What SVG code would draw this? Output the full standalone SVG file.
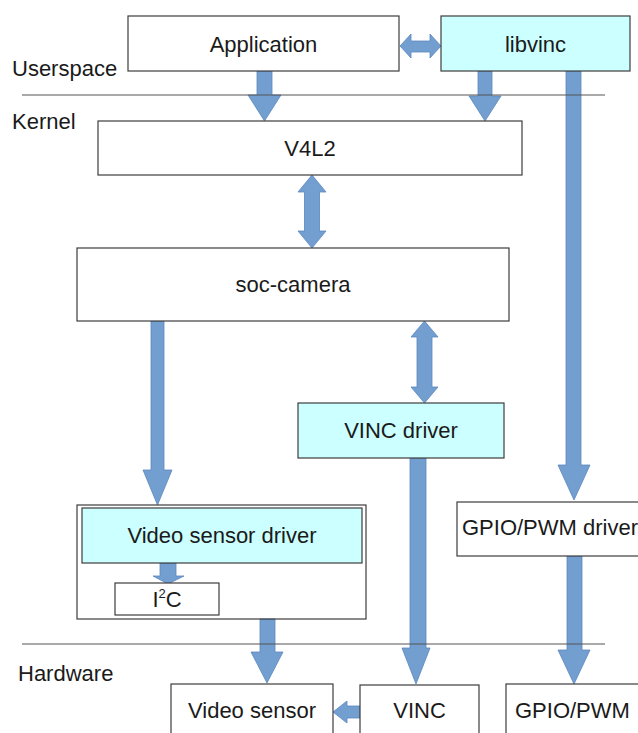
<svg xmlns="http://www.w3.org/2000/svg" width="638" height="733" viewBox="0 0 638 733">
<style>
.box{fill:#ffffff;stroke:#3c3c3c;stroke-width:1.2}
.frame{fill:none;stroke:#3c3c3c;stroke-width:1.2}
.cyan{fill:#ccffff;stroke:#3c3c3c;stroke-width:1.2}
.arr{fill:#729fcf;stroke:#5a87bf;stroke-width:0.8}
.sep{stroke:#555555;stroke-width:1.2}
text{font-family:"Liberation Sans",Arial,sans-serif;font-size:22px;fill:#1a1a1a}
.c{text-anchor:middle}
</style>
<rect width="638" height="733" fill="#ffffff"/>
<g id="connectors">
<path class="arr" d="M257,71 H272 V95 H281 L264.5,121 L248,95 H257 Z"/>
<path class="arr" d="M478,71 H492 V96 H501 L485,121 L469,96 H478 Z"/>
<path class="arr" d="M566,71 H581 V465 H590 L574,500 L558,465 H566 Z"/>
<path class="arr" d="M400,46 L411,34 V41 H430 V34 L441,46 L430,58 V52 H411 V58 Z"/>
<path class="arr" d="M312,175 L326,192 H319.5 V231 H326 L312,248 L298,231 H304.5 V192 H298 Z"/>
<path class="arr" d="M424.5,321 L438,337 H432 V387 H438 L424.5,403 L411,387 H417 V337 H411 Z"/>
<path class="arr" d="M151,321 H164 V470 H172 L157.5,505 L143,470 H151 Z"/>
<path class="arr" d="M160,563 H176 V576 H184 L168,584 L153,576 H160 Z"/>
<path class="arr" d="M260,619 H275 V652 H283 L267,683 L251,652 H260 Z"/>
<path class="arr" d="M410,458 H426 V648 H430 L416,684 L402,648 H410 Z"/>
<path class="arr" d="M567,556 H582 V650 H590 L574,684 L558,650 H567 Z"/>
<path class="arr" d="M333,712 L347,701 V706 H360 V718 H347 V723 Z"/>
</g>
<g id="separators">
<line class="sep" x1="22" y1="95" x2="605" y2="95"/>
<line class="sep" x1="22" y1="644" x2="605" y2="644"/>
</g>
<g id="labels">
<text x="12" y="76">Userspace</text>
<text x="12" y="129">Kernel</text>
<text x="18" y="681">Hardware</text>
</g>
<g id="application">
<rect class="box" x="128" y="16" width="271" height="55"/>
<text class="c" x="263.5" y="52">Application</text>
</g>
<g id="libvinc">
<rect class="cyan" x="441" y="16" width="189" height="55"/>
<text class="c" x="535.5" y="52">libvinc</text>
</g>
<g id="v4l2">
<rect class="box" x="98" y="121" width="424" height="54"/>
<text class="c" x="310" y="156">V4L2</text>
</g>
<g id="soc-camera">
<rect class="box" x="77" y="248" width="432" height="73"/>
<text class="c" x="293" y="292">soc-camera</text>
</g>
<g id="vinc-driver">
<rect class="cyan" x="298" y="403" width="206" height="55"/>
<text class="c" x="401" y="438">VINC driver</text>
</g>
<g id="video-sensor-driver-group">
<rect class="frame" x="77" y="505" width="289" height="114"/>
</g>
<g id="video-sensor-driver">
<rect class="cyan" x="82" y="508" width="280" height="55"/>
<text class="c" x="222" y="543">Video sensor driver</text>
</g>
<g id="i2c">
<rect class="box" x="115" y="583" width="104" height="32"/>
<text class="c" x="167" y="607">I<tspan font-size="13" dy="-9">2</tspan><tspan dy="9">C</tspan></text>
</g>
<g id="gpio-pwm-driver">
<rect class="box" x="457" y="502" width="200" height="54"/>
<text x="462" y="535">GPIO/PWM driver</text>
</g>
<g id="video-sensor">
<rect class="box" x="171" y="684" width="162" height="60"/>
<text class="c" x="252" y="718">Video sensor</text>
</g>
<g id="vinc">
<rect class="box" x="360" y="685" width="119" height="60"/>
<text class="c" x="419.5" y="718">VINC</text>
</g>
<g id="gpio-pwm">
<rect class="box" x="506" y="684" width="150" height="60"/>
<text x="515" y="718">GPIO/PWM</text>
</g>
</svg>
